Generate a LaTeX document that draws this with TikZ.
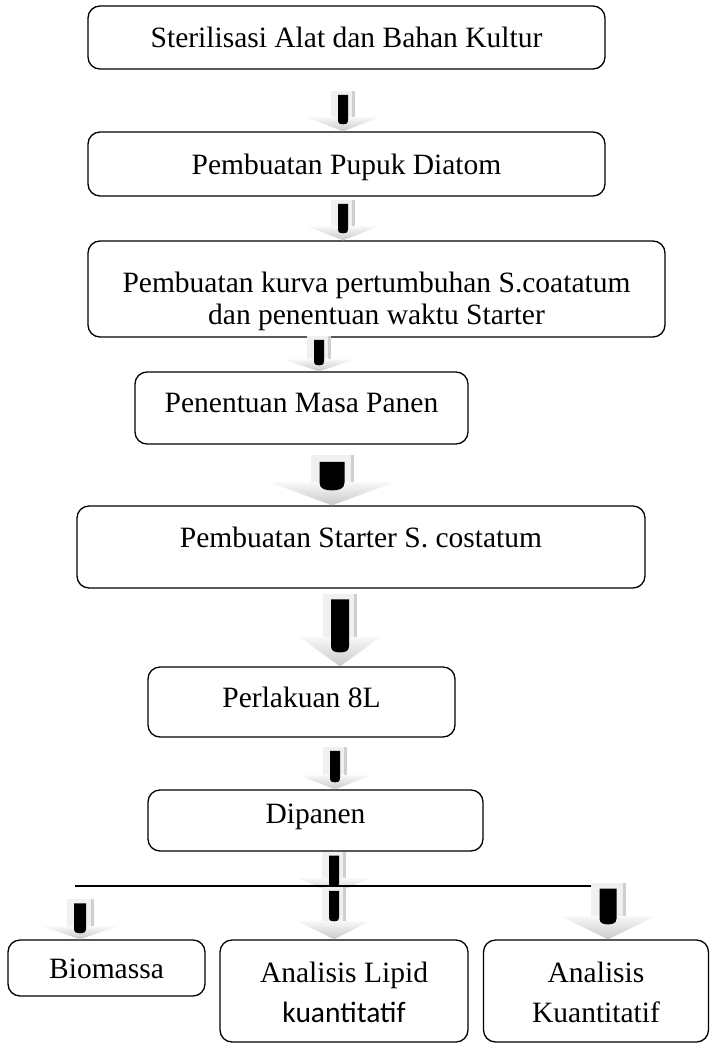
\documentclass[tikz,border=0pt]{standalone}
\usepackage{fontspec}
\setmainfont{Liberation Serif}
\newfontfamily\calibri{Carlito}
\newcommand{\blockarr}[7]{%
\begin{scope}[shift={#1}]
  \fill[arrlight] ({-#3},{-#2}) rectangle ({#3},{-#5});
  \fill[arrdark] ({#3-3},{-#2}) rectangle ({#3},{-#5});
  \shade[top color=gray!6, bottom color=gray!42] ({-#4},{-#5}) -- ({#4},{-#5}) -- (0,0) -- cycle;
  \fill[black] ({-#6},{-(#2-0.3*#3)}) -- ({-#6},{-(#7+0.45*#6+2)}) .. controls ({-#6},{-#7-0.1*#6}) and ({-0.5*#6},{-#7}) .. (0,{-#7}) .. controls ({0.5*#6},{-#7}) and ({#6},{-#7-0.1*#6}) .. ({#6},{-(#7+0.45*#6+2)}) -- ({#6},{-(#2-0.3*#3)}) -- cycle;
\end{scope}}
\begin{document}
\begin{tikzpicture}[x=1pt,y=-1pt,
  box/.style={draw=black, line width=1.3pt, rounded corners=12pt, inner sep=0pt},
  txt/.style={font=\fontsize{29.5}{#1}\selectfont, inner sep=0pt, anchor=base, align=center},
  txt/.default=34pt,
  arrlight/.style={fill=gray!12},
  arrdark/.style={fill=gray!38}]
\useasboundingbox (0,0) rectangle (710,1044);

% boxes
\node[box, minimum width=517pt, minimum height=63pt] (b1) at (346.5,37.5) {};
\node[box, minimum width=517pt, minimum height=64pt] (b2) at (346.5,164) {};
\node[box, minimum width=577pt, minimum height=96pt] (b3) at (376.5,289) {};
\node[box, minimum width=333pt, minimum height=72pt] (b4) at (301.5,408) {};
\node[box, minimum width=568pt, minimum height=82pt] (b5) at (361,547) {};
\node[box, minimum width=307pt, minimum height=70pt] (b6) at (301.5,702) {};
\node[box, minimum width=335pt, minimum height=61pt] (b7) at (315.5,820.5) {};
\node[box, minimum width=197pt, minimum height=56pt] (b8) at (106.5,968) {};
\node[box, minimum width=248pt, minimum height=102pt] (b9) at (344,991) {};
\node[box, minimum width=225pt, minimum height=102pt] (b10) at (596,991) {};

% texts (positioned by baseline of the last line)
\node[txt] (t1) at (346.5,47) {Sterilisasi Alat dan Bahan Kultur};
\node[txt] (t2) at (346.5,174) {Pembuatan Pupuk Diatom};
\node[txt=32pt] (t3) at (376.5,324) {Pembuatan kurva pertumbuhan S.coatatum\\dan penentuan waktu Starter};
\node[txt] (t4) at (301.5,412) {Penentuan Masa Panen};
\node[txt] (t5) at (361,547) {Pembuatan Starter S. costatum};
\node[txt] (t6) at (301.5,707) {Perlakuan 8L};
\node[txt] (t7) at (315.5,823) {Dipanen};
\node[txt] (t8) at (106.5,978) {Biomassa};
\node[txt=40pt] (t9) at (344,1022) {Analisis Lipid\\{\calibri kuantitatif}};
\node[txt=40pt] (t10) at (596,1022) {Analisis\\Kuantitatif};

% block arrows: tip, length, shaft half, head half, head height, bar half, bar bottom
\blockarr{(343,0 |- b2.north)}{40}{12}{36}{14}{5}{7}
\blockarr{(343,0 |- b3.north)}{40}{12}{36}{14}{5}{7}
\blockarr{(319,0 |- b4.north)}{35}{12}{36}{12}{5}{6}
\blockarr{(332,0 |- b5.north)}{50}{21.5}{62}{23}{12.5}{15}
\blockarr{(340,0 |- b6.north)}{72}{17}{40}{29}{9}{14}
\blockarr{(335,0 |- b7.north)}{42}{12}{36}{14}{5}{7}
\coordinate (a7tip) at (334,894);
\blockarr{(a7tip)}{42}{12}{36}{16}{5}{7}
\coordinate (lineL) at (75,886);
\coordinate (lineR) at (603,886);
\draw[line width=1.3pt] (lineL) -- (lineR);
\blockarr{(334,0 |- b9.north)}{52}{12}{36}{18}{5}{18}
\blockarr{(80,0 |- b8.north)}{40}{13.5}{37}{13}{6}{6}
\blockarr{(608,0 |- b10.north)}{56}{17.5}{47}{23}{8.5}{15}
\end{tikzpicture}
\end{document}
